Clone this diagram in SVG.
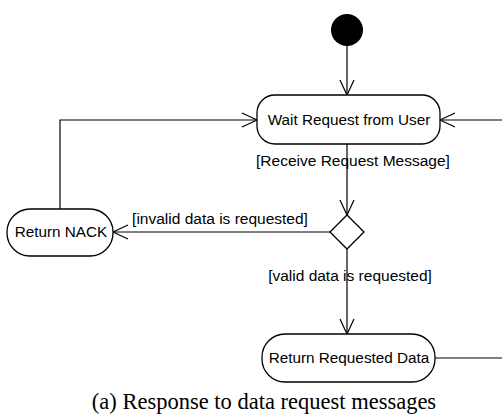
<svg xmlns="http://www.w3.org/2000/svg" width="502" height="415" viewBox="0 0 502 415">
  <style>
    .node { fill: #ffffff; stroke: #000000; stroke-width: 1.3; }
    .edge { fill: none; stroke: #000000; stroke-width: 1.2; }
    .lbl { font-family: "Liberation Sans", Arial, sans-serif; font-size: 15.3px; fill: #000000; }
    .grd { font-family: "Liberation Sans", Arial, sans-serif; font-size: 15.5px; fill: #000000; }
    .cap { font-family: "Liberation Serif", "Times New Roman", serif; font-size: 22.5px; fill: #000000; }
  </style>
  <defs>
    <!-- open V arrowhead shared by all flows -->
    <marker id="open" viewBox="0 0 20 20" refX="18" refY="10" markerWidth="20" markerHeight="20" markerUnits="userSpaceOnUse" orient="auto">
      <path d="M3,3 L18,10 L3,17" fill="none" stroke="#000" stroke-width="1.2"/>
    </marker>
  </defs>

  <g id="connectors">
    <path class="edge" d="M347,45 V95" marker-end="url(#open)"/>
    <path class="edge" d="M347,144 V215" marker-end="url(#open)"/>
    <path class="edge" d="M331,232 H113" marker-end="url(#open)"/>
    <path class="edge" d="M60,209 V120 H257" marker-end="url(#open)"/>
    <path class="edge" d="M347,249 V334" marker-end="url(#open)"/>
    <path class="edge" d="M435,358 H502"/>
    <path class="edge" d="M502,120 H440" marker-end="url(#open)"/>
    <text class="grd" x="353" y="166" text-anchor="middle">[Receive Request Message]</text>
    <text class="grd" x="220" y="224" text-anchor="middle">[invalid data is requested]</text>
    <text class="grd" x="350" y="281" text-anchor="middle">[valid data is requested]</text>
  </g>

  <g id="start">
    <circle cx="347" cy="30" r="16" fill="#000"/>
  </g>

  <g id="wait">
    <rect class="node" x="257" y="95" width="183" height="49" rx="18" ry="18"/>
    <text class="lbl" x="349" y="125" text-anchor="middle">Wait Request from User</text>
  </g>

  <g id="decision">
    <polygon class="node" points="347,215 364,232 347,249 330,232"/>
  </g>

  <g id="nack">
    <rect class="node" x="7" y="209" width="106" height="47" rx="23" ry="23"/>
    <text class="lbl" x="61" y="237" text-anchor="middle">Return NACK</text>
  </g>

  <g id="data">
    <rect class="node" x="262" y="334" width="173" height="48" rx="23" ry="23"/>
    <text class="lbl" x="349" y="363" text-anchor="middle">Return Requested Data</text>
  </g>

  <text class="cap" x="264" y="409" text-anchor="middle">(a) Response to data request messages</text>
</svg>
